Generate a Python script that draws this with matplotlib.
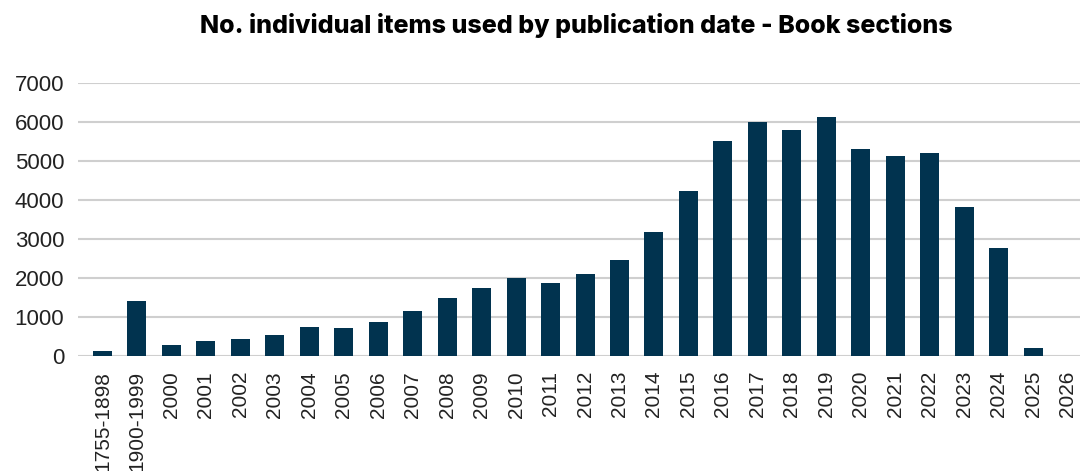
import matplotlib
matplotlib.use("Agg")
import matplotlib.pyplot as plt
import numpy as np

categories = ["1755-1898", "1900-1999", "2000", "2001", "2002", "2003", "2004", "2005",
              "2006", "2007", "2008", "2009", "2010", "2011", "2012", "2013", "2014",
              "2015", "2016", "2017", "2018", "2019", "2020", "2021", "2022", "2023",
              "2024", "2025", "2026"]
values = [120, 1410, 275, 378, 430, 530, 735, 718, 864, 1146, 1480, 1736, 1992, 1864,
          2095, 2454, 3172, 4223, 5505, 5992, 5787, 6121, 5300, 5121, 5197, 3813, 2762,
          197, 0]
y_ticks = [0, 1000, 2000, 3000, 4000, 5000, 6000, 7000]

W, H = 1088, 471
fig = plt.figure(figsize=(W / 100, H / 100), dpi=100)
ax = fig.add_axes([78 / W, (H - 355.7) / H, (1080 - 78) / W, (355.7 - 82.7) / H])

x = np.arange(len(categories))
ax.bar(x, values, width=0.55, color="#01334f", zorder=3)

ax.set_xlim(-0.71, len(categories) - 1 + 0.36)
ax.set_ylim(0, 7000)
ax.set_yticks(y_ticks)
ax.set_yticklabels([str(v) for v in y_ticks], fontsize=16, color="#222222",
                   family=["Liberation Sans", "DejaVu Sans"])
ax.set_xticks(x)
ax.set_xticklabels(categories, rotation=90, fontsize=15, color="#222222",
                   family=["Liberation Sans", "DejaVu Sans"], va="top")
ax.tick_params(axis="both", length=0)
ax.tick_params(axis="x", pad=11)
ax.tick_params(axis="y", pad=10)
ax.grid(axis="y", color="#cfcfcf", linewidth=1.5, zorder=0)
for s in ax.spines.values():
    s.set_visible(False)

fig.text(576 / W, 1 - 25 / H, "No. individual items used by publication date - Book sections",
         ha="center", va="center", fontsize=18, fontweight="heavy",
         family=["Inter", "DejaVu Sans"], color="#000000")

fig.savefig("out.png", dpi=100)
